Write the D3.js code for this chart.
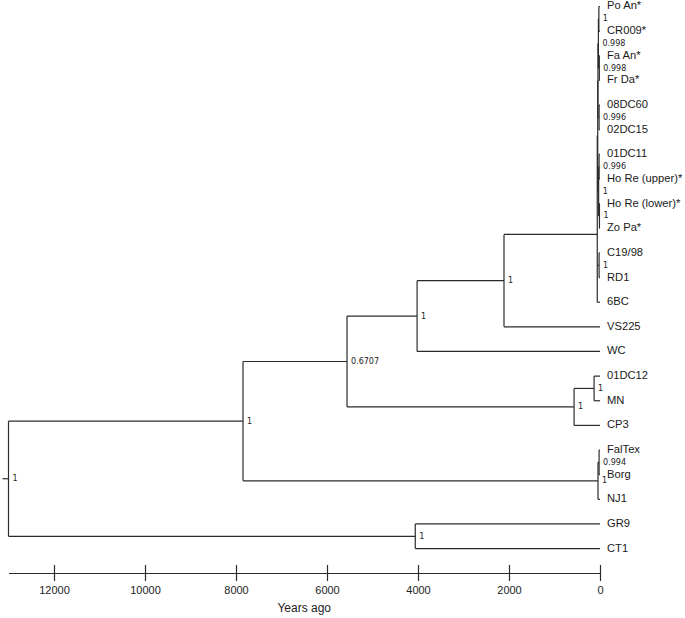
<!DOCTYPE html>
<html>
<head>
<meta charset="utf-8">
<script src="https://cdn.jsdelivr.net/npm/d3@7"></script>
<style>
  html, body { margin: 0; padding: 0; background: #fff; }
  svg { display: block; }
</style>
</head>
<body>
<svg id="chart" width="685" height="618"></svg>
<script>
// ---------------- DATA ----------------
// Tips, top to bottom (all sampled at 0 years ago)
const tips = ["Po An*", "CR009*", "Fa An*", "Fr Da*", "08DC60", "02DC15", "01DC11",
  "Ho Re (upper)*", "Ho Re (lower)*", "Zo Pa*", "C19/98", "RD1", "6BC", "VS225", "WC",
  "01DC12", "MN", "CP3", "FalTex", "Borg", "NJ1", "GR9", "CT1"];

// Internal nodes (children listed top to bottom), ages in years ago, posterior support
const cladeIds = ["n1", "n2", "n3", "n4", "n5", "n6", "n7", "n8", "n9", "n10", "n11",
  "n12", "n13", "n14", "n15", "n16", "n17", "n18", "n19", "n20", "root"];
const cladeChildren = [
  ["Po An*", "CR009*"],
  ["Fa An*", "Fr Da*"],
  ["n1", "n2"],
  ["08DC60", "02DC15"],
  ["n3", "n4"],
  ["01DC11", "Ho Re (upper)*"],
  ["Ho Re (lower)*", "Zo Pa*"],
  ["n6", "n7"],
  ["n5", "n8"],
  ["C19/98", "RD1"],
  ["n9", "n10", "6BC"],
  ["n11", "VS225"],
  ["n12", "WC"],
  ["01DC12", "MN"],
  ["n14", "CP3"],
  ["n13", "n15"],
  ["FalTex", "Borg"],
  ["n17", "NJ1"],
  ["n16", "n18"],
  ["GR9", "CT1"],
  ["n19", "n20"]
];
const cladeAges = [25, 15, 35, 20, 45, 20, 12, 30, 50, 20, 60,
  2110, 4020, 130, 570, 5560, 20, 44, 7846, 4060, 13000];
const cladeSupport = ["1", "0.998", "0.998", "0.996", "", "0.996", "1", "1", "", "1", "",
  "1", "1", "1", "1", "0.6707", "0.994", "1", "1", "1", "1"];
const rootStub = 130; // years of stem drawn left of root

const axisTicks = [12000, 10000, 8000, 6000, 4000, 2000, 0];
const axisTitle = "Years ago";

// ---------------- LAYOUT ----------------
const svg = d3.select("#chart");
const x = d3.scaleLinear().domain([13000, 0]).range([8.5, 600]);
const y = d3.scaleLinear().domain([0, tips.length - 1]).range([6.5, 548.6]);

const nodes = new Map();
tips.forEach((t, i) => nodes.set(t, { id: t, age: 0, y: y(i), tip: true }));
cladeIds.forEach((id, i) => {
  const kids = cladeChildren[i].map(c => nodes.get(c));
  nodes.set(id, { id, age: cladeAges[i], support: cladeSupport[i], kids,
    y: d3.mean(kids, k => k.y), tip: false });
});
const internals = cladeIds.map(id => nodes.get(id));
const root = nodes.get("root");

const lineColor = "#2b2b2b";
const g = svg.append("g");

// horizontal branches
const hseg = [];
internals.forEach(n => n.kids.forEach(k => hseg.push({ x1: x(n.age), x2: x(k.age), y: k.y })));
hseg.push({ x1: x(root.age + rootStub), x2: x(root.age), y: root.y });
g.selectAll("line.h").data(hseg).join("line")
  .attr("x1", d => d.x1).attr("x2", d => d.x2)
  .attr("y1", d => d.y).attr("y2", d => d.y)
  .attr("stroke", lineColor).attr("stroke-width", 1.2);

// vertical connectors
g.selectAll("line.v").data(internals).join("line")
  .attr("x1", d => x(d.age)).attr("x2", d => x(d.age))
  .attr("y1", d => d3.min(d.kids, k => k.y)).attr("y2", d => d3.max(d.kids, k => k.y))
  .attr("stroke", lineColor).attr("stroke-width", 1.2);

// node support labels
g.selectAll("text.sup").data(internals.filter(d => d.support)).join("text")
  .attr("x", d => x(d.age) + 4).attr("y", d => d.y)
  .attr("dominant-baseline", "middle")
  .attr("font-family", "DejaVu Sans, sans-serif").attr("font-size", 8)
  .attr("fill", "#222")
  .text(d => d.support);

// tip labels
g.selectAll("text.tip").data(tips.map(t => nodes.get(t))).join("text")
  .attr("x", d => x(0) + 7).attr("y", d => d.y)
  .attr("dominant-baseline", "middle")
  .attr("font-family", "Liberation Sans, Arial, sans-serif").attr("font-size", 11.2)
  .attr("fill", "#1a1a1a")
  .text(d => d.id);

// ---------------- AXIS ----------------
const axisY = 573;
const ax = svg.append("g").attr("transform", `translate(0,${axisY})`)
  .call(d3.axisBottom(x).tickValues(axisTicks).tickFormat(d3.format("d"))
    .tickSize(8).tickSizeOuter(0).tickPadding(5));
ax.select(".domain").attr("stroke", lineColor).attr("stroke-width", 1.2);
ax.selectAll(".tick line").attr("y1", -8).attr("y2", 8)
  .attr("stroke", lineColor).attr("stroke-width", 1.2);
ax.selectAll(".tick text").attr("font-family", "Liberation Sans, Arial, sans-serif")
  .attr("font-size", 11).attr("fill", "#222");

svg.append("text")
  .attr("x", (x.range()[0] + x.range()[1]) / 2).attr("y", 612)
  .attr("text-anchor", "middle")
  .attr("font-family", "Liberation Sans, Arial, sans-serif").attr("font-size", 12)
  .attr("fill", "#222")
  .text(axisTitle);
</script>
</body>
</html>
